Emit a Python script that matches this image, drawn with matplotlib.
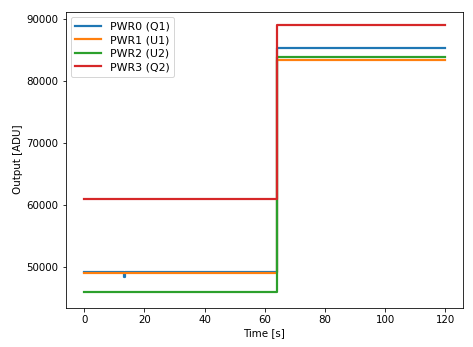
import matplotlib
matplotlib.use("Agg")
import matplotlib.pyplot as plt

# Each channel holds a level, then steps at ~64 s
labels = ["PWR0 (Q1)", "PWR1 (U1)", "PWR2 (U2)", "PWR3 (Q2)"]
colors = ["#1f77b4", "#ff7f0e", "#2ca02c", "#d62728"]

t_pwr0 = [0, 13.3, 13.3, 13.5, 13.5, 64.1, 64.1, 120]
pwr0 = [49250, 49250, 48500, 48500, 49250, 49250, 85300, 85300]

t_pwr1 = [0, 64.1, 64.1, 120]
pwr1 = [49150, 49150, 83450, 83450]

t_pwr2 = [0, 64.2, 64.2, 120]
pwr2 = [46100, 46100, 83850, 83850]

t_pwr3 = [0, 64.0, 64.0, 120]
pwr3 = [61000, 61000, 89100, 89100]

times = [t_pwr0, t_pwr1, t_pwr2, t_pwr3]
series = [pwr0, pwr1, pwr2, pwr3]

fig = plt.figure(figsize=(473 / 72, 347 / 72), dpi=72)
ax = fig.add_axes([0.1385, 0.1138, 0.8395, 0.853])

for t, y, lab, c in zip(times, series, labels, colors):
    ax.plot(t, y, color=c, lw=2.2, label=lab)

ax.set_xlim(-6.2, 125.7)
ax.set_ylim(43540, 91260)
ax.set_xticks([0, 20, 40, 60, 80, 100, 120])
ax.set_yticks([50000, 60000, 70000, 80000, 90000])
ax.tick_params(labelsize=10.3)
ax.set_xlabel("Time [s]", fontsize=10.3)
ax.set_ylabel("Output [ADU]", fontsize=10.3)
ax.legend(loc="upper left", fontsize=11, handlelength=2.3, labelspacing=0.33)

fig.savefig("out.png", dpi=72)
